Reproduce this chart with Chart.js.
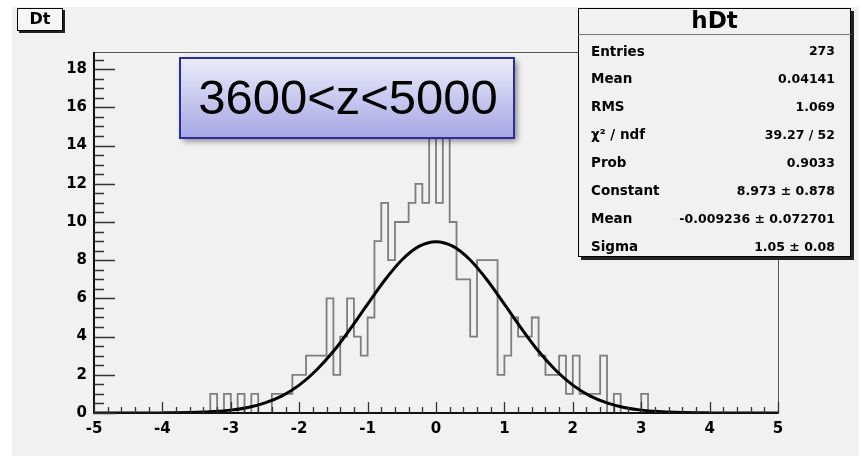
<!DOCTYPE html>
<html>
<head>
<meta charset="utf-8">
<script src="https://cdn.jsdelivr.net/npm/chart.js@4.4.0/dist/chart.umd.min.js"></script>
<style>
html, body { margin: 0; padding: 0; background: #fff; }
canvas { display: block; }
</style>
</head>
<body>
<canvas id="grafico" width="861" height="458"></canvas>
<script>
// hDt: 100 bins from -5 to 5
const xMin = -5;
const xMax = 5;
const binWidth = 0.1;
const counts = [
    0, 0, 0, 0, 0, 0, 0, 0, 0, 0,
    0, 0, 0, 0, 0, 0, 0, 0, 1, 0,
    1, 0, 1, 0, 1, 0, 0, 1, 1, 1,
    2, 2, 3, 3, 3, 6, 2, 4, 6, 4,
    3, 5, 9, 11, 8, 10, 10, 11, 12, 11,
    18, 11, 15, 10, 7, 7, 4, 8, 8, 8,
    2, 3, 5, 4, 4, 5, 3, 2, 2, 3,
    1, 3, 1, 1, 1, 3, 0, 1, 0, 0,
    0, 1, 0, 0, 0, 0, 0, 0, 0, 0,
    0, 0, 0, 0, 0, 0, 0, 0, 0, 0
];

// gaussian fit curve
const fitX = [-5, -4.5, -4, -3.5, -3.25, -3, -2.75, -2.5, -2.25, -2, -1.75, -1.5, -1.25, -1, -0.75, -0.5, -0.25,
    0, 0.25, 0.5, 0.75, 1, 1.25, 1.5, 1.75, 2, 2.25, 2.5, 2.75, 3, 3.25, 3.5, 4, 4.5, 5];
const fitY = [0, 0, 0.006, 0.035, 0.075, 0.15, 0.29, 0.53, 0.90, 1.46, 2.24, 3.23, 4.42, 5.70, 6.95, 8.01, 8.72,
    8.97, 8.72, 8.01, 6.95, 5.70, 4.42, 3.23, 2.24, 1.46, 0.90, 0.53, 0.29, 0.15, 0.075, 0.035, 0.006, 0, 0];

const histTitle = 'Dt';
const histName = 'hDt';
const cutLabel = '3600<z<5000';
const statLabels = ['Entries', 'Mean', 'RMS', 'χ² / ndf', 'Prob', 'Constant', 'Mean', 'Sigma'];
const statValues = ['273', '0.04141', '1.069', '39.27 / 52', '0.9033', '8.973 ± 0.878', '-0.009236 ± 0.072701', '1.05 ± 0.08'];

const histPoints = counts.map((c, i) => ({ x: xMin + i * binWidth, y: c }));
histPoints.push({ x: xMax, y: counts[counts.length - 1] });
const fitPoints = fitX.map((x, i) => ({ x: x, y: fitY[i] }));

const labelFont = { family: 'DejaVu Sans', size: 15, weight: 'bold' };

const rootStyle = {
    id: 'rootStyle',
    beforeDraw(chart) {
        const c = chart.ctx;
        c.save();
        c.fillStyle = '#ffffff';
        c.fillRect(0, 0, chart.width, chart.height);
        c.fillStyle = '#f1f1f1';
        c.fillRect(12, 7, chart.width - 14, chart.height - 9);
        c.restore();
    },
    afterDatasetsDraw(chart) {
        const c = chart.ctx;
        const a = chart.chartArea;
        const x = chart.scales.x;
        const y = chart.scales.y;
        c.save();
        // frame
        c.strokeStyle = '#555';
        c.lineWidth = 1;
        c.strokeRect(a.left + 0.5, a.top + 0.5, a.right - a.left, a.bottom - a.top);
        c.strokeStyle = '#111';
        c.lineWidth = 2;
        c.beginPath();
        c.moveTo(a.left, a.top);
        c.lineTo(a.left, a.bottom);
        c.lineTo(a.right, a.bottom);
        c.stroke();
        // ticks inside the frame
        c.lineWidth = 1.3;
        c.strokeStyle = '#333';
        c.beginPath();
        for (let i = 0; i <= 37; i++) {
            const py = Math.round(y.getPixelForValue(i * 0.5)) + 0.5;
            const len = i % 4 === 0 ? 21 : 10;
            c.moveTo(a.left, py);
            c.lineTo(a.left + len, py);
        }
        for (let i = 0; i <= 50; i++) {
            const px = Math.round(x.getPixelForValue(xMin + i * 0.2)) + 0.5;
            const len = i % 5 === 0 ? 11 : 6;
            c.moveTo(px, a.bottom);
            c.lineTo(px, a.bottom - len);
        }
        c.stroke();
        c.restore();
    },
    afterDraw(chart) {
        const c = chart.ctx;
        c.save();

        // title box
        c.fillStyle = '#222';
        c.fillRect(19, 10, 46, 23);
        c.fillStyle = '#f6f6f6';
        c.fillRect(17, 8, 46, 23);
        c.strokeStyle = '#000';
        c.lineWidth = 1;
        c.strokeRect(17.5, 8.5, 45, 22);
        c.fillStyle = '#000';
        c.font = 'bold 16px "DejaVu Sans"';
        c.textAlign = 'center';
        c.textBaseline = 'middle';
        c.fillText(histTitle, 40, 20);

        // cut label box
        const bx = 180, by = 58, bw = 334, bh = 80;
        c.save();
        c.shadowColor = 'rgba(0,0,0,0.45)';
        c.shadowBlur = 6;
        c.shadowOffsetX = 3;
        c.shadowOffsetY = 3;
        const g = c.createLinearGradient(0, by, 0, by + bh);
        g.addColorStop(0, '#ececfb');
        g.addColorStop(1, '#a6a6e4');
        c.fillStyle = g;
        c.fillRect(bx, by, bw, bh);
        c.restore();
        c.strokeStyle = '#2c2c9c';
        c.lineWidth = 2;
        c.strokeRect(bx, by, bw, bh);
        c.fillStyle = '#000';
        c.font = '49px "Liberation Sans"';
        c.textAlign = 'center';
        c.textBaseline = 'middle';
        c.fillText(cutLabel, bx + bw / 2 + 1, by + bh / 2 + 2);

        // stats box
        const sx = 578, sy = 8, sw = 273, sh = 249;
        c.fillStyle = '#222';
        c.fillRect(sx + 3, sy + 3, sw, sh);
        c.fillStyle = '#f1f1f1';
        c.fillRect(sx, sy, sw, sh);
        c.strokeStyle = '#000';
        c.lineWidth = 1;
        c.strokeRect(sx + 0.5, sy + 0.5, sw - 1, sh - 1);
        c.strokeStyle = '#777';
        c.beginPath();
        c.moveTo(sx, 34.5);
        c.lineTo(sx + sw, 34.5);
        c.stroke();
        c.fillStyle = '#000';
        c.font = 'bold 23px "DejaVu Sans"';
        c.textAlign = 'center';
        c.fillText(histName, sx + sw / 2, 22);
        statLabels.forEach((lab, i) => {
            const ty = 52 + i * 27.9;
            c.textAlign = 'left';
            c.font = 'bold 13.5px "DejaVu Sans"';
            c.fillText(lab, 591, ty);
            c.textAlign = 'right';
            c.font = 'bold 12.5px "DejaVu Sans"';
            c.fillText(statValues[i], 835, ty);
        });
        c.restore();
    }
};

const ctx = document.getElementById('grafico').getContext('2d');

let grafico = new Chart(ctx, {
    type: 'line',
    data: {
        datasets: [
            {
                label: 'fit',
                data: fitPoints,
                borderColor: '#000',
                borderWidth: 3,
                cubicInterpolationMode: 'monotone',
                pointRadius: 0,
                fill: false
            },
            {
                label: histName,
                data: histPoints,
                borderColor: '#7d7d7d',
                borderWidth: 1.8,
                stepped: 'after',
                pointRadius: 0,
                fill: false
            }
        ]
    },
    options: {
        responsive: false,
        animation: false,
        devicePixelRatio: 1,
        layout: { padding: { left: 0, top: 52, right: 83, bottom: 0 } },
        plugins: {
            legend: { display: false },
            tooltip: { enabled: false }
        },
        scales: {
            x: {
                type: 'linear',
                min: xMin,
                max: xMax,
                grid: { display: false, drawTicks: false },
                border: { display: false },
                ticks: {
                    stepSize: 1,
                    includeBounds: false,
                    autoSkip: false,
                    maxRotation: 0,
                    padding: 7,
                    color: '#000',
                    font: labelFont
                },
                afterFit(scale) { scale.height = 45; }
            },
            y: {
                min: 0,
                max: 18.9,
                grid: { display: false, drawTicks: false },
                border: { display: false },
                ticks: {
                    stepSize: 2,
                    includeBounds: false,
                    padding: 7,
                    color: '#000',
                    font: labelFont
                },
                afterFit(scale) { scale.width = 94; }
            }
        }
    },
    plugins: [rootStyle]
});
</script>
</body>
</html>
